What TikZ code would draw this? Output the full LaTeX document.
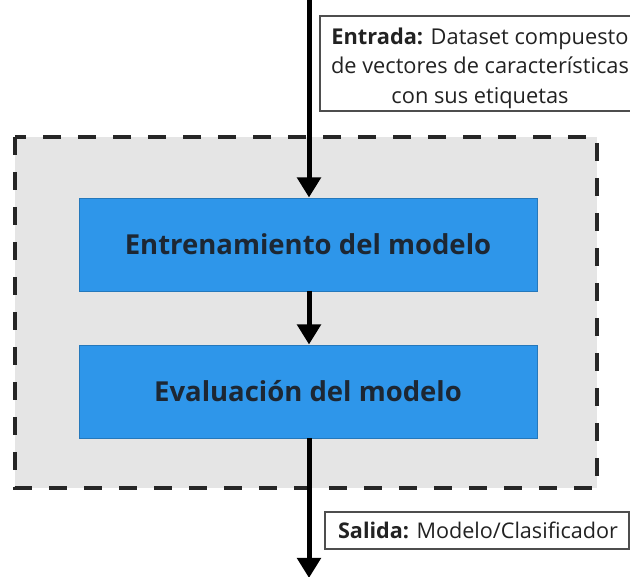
\documentclass[tikz,border=0pt]{standalone}
\usepackage{fontspec}
\setmainfont{Open Sans}
\usetikzlibrary{arrows.meta}
\definecolor{panel}{HTML}{E5E5E5}
\definecolor{bluebox}{HTML}{2E96EA}
\definecolor{boxtext}{HTML}{1D2733}
\definecolor{ink}{HTML}{222222}
\tikzset{
  x=1pt, y=1pt,
  stagebox/.style={draw=bluebox!80!black, line width=0.6pt, fill=bluebox, minimum width=458pt, minimum height=93pt, inner sep=0pt, font=\bfseries\fontsize{27.5}{32}\selectfont, text=boxtext},
  iobox/.style={draw=ink!80, line width=1.8pt, fill=white, inner sep=0pt},
  iotext/.style={inner sep=0pt, align=center, text=ink, font=\fontsize{21.8}{29.5}\selectfont},
  flow/.style={line width=5pt, -{Triangle[width=23pt,length=20pt]}, black},
  region/.style={draw=black!85, line width=4pt, dash pattern=on 18pt off 17pt, fill=panel}
}
\begin{document}
\begin{tikzpicture}
\useasboundingbox (0,0) rectangle (630,-577);
\clip (0,0) rectangle (630,-577);
\draw[region] (15,-137) rectangle (597,-488);
\node[stagebox] (train) at (308,-244.5) {Entrenamiento del modelo};
\node[stagebox] (eval) at (308,-391.5) {Evaluación del modelo};
\coordinate (top) at (309,2);
\coordinate (bottom) at (309,-578);
\node[iobox, minimum width=325pt, minimum height=95pt] (input) at (482.5,-63.5) {};
\node[iotext] (inputtext) at (480,-68) {\textbf{Entrada:} Dataset compuesto\\de vectores de características\\con sus etiquetas};
\node[iobox, minimum width=304pt, minimum height=37pt] (output) at (477,-530.5) {};
\node[iotext, font=\fontsize{21.6}{26}\selectfont] (outputtext) at (478,-530.5) {\textbf{Salida:} Modelo/Clasificador};
\draw[flow] (top) -- (309,-197.5);
\draw[flow] (309,-291) -- (309,-344.5);
\draw[flow] (309,-438) -- (bottom);
\end{tikzpicture}
\end{document}
